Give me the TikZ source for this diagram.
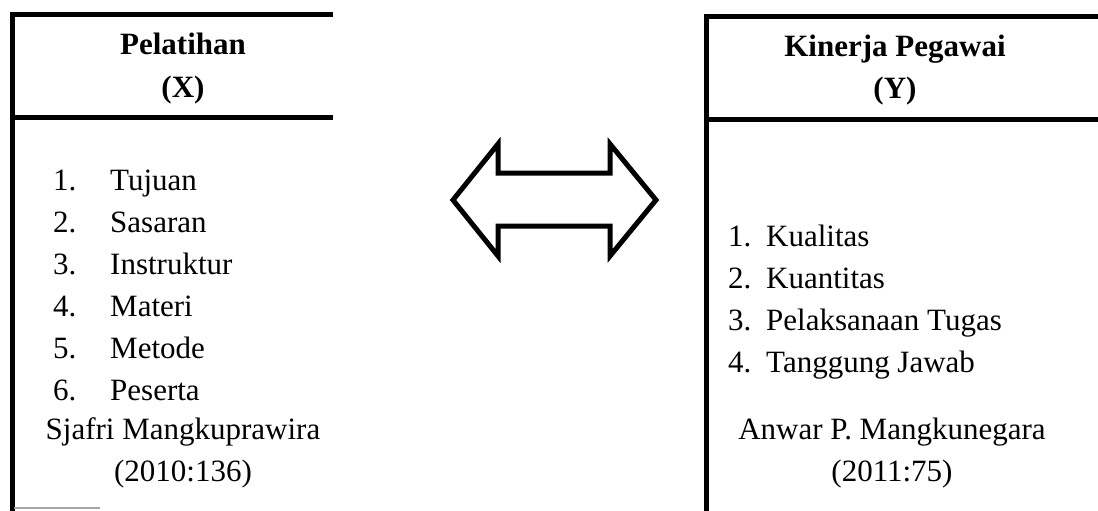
\documentclass[tikz,border=0pt]{standalone}
\usepackage{fontspec}
\setmainfont{Liberation Serif}
\begin{document}
\begin{tikzpicture}[x=1pt,y=-1pt,
  txt/.style={inner sep=0pt, font=\fontsize{31}{37}\selectfont},
  ttl/.style={txt, font=\fontsize{31}{37}\selectfont\bfseries, anchor=base},
  num/.style={txt, anchor=base west},
  item/.style={txt, anchor=base west},
  src/.style={txt, anchor=base},
  frame/.style={line width=5pt, line cap=rect},
  thin/.style={line width=1.5pt, black!35}]
\useasboundingbox (0,0) rectangle (1098,511);
\fill[white] (0,0) rectangle (1098,511);

% left box
\coordinate (LTL) at (12,15);
\coordinate (LTR) at (330,15);
\coordinate (LHL) at (12,117);
\coordinate (LHR) at (330,117);
\coordinate (LBL) at (12,511);
\draw[frame] (LTR) -- (LTL) -- (LBL);
\draw[frame] (LHL) -- (LHR);
\coordinate (LG1) at (14,508);
\coordinate (LG2) at (100,508);
\draw[thin] (LG1) -- (LG2);

\node[ttl] (t1a) at (183,55) {Pelatihan};
\node[ttl] (t1b) at (183,97) {(X)};

\foreach \i/\t in {1/Tujuan,2/Sasaran,3/Instruktur,4/Materi,5/Metode,6/Peserta}{
  \node[num] (ln\i) at (53,{190+42*(\i-1)}) {\i.};
  \node[item] (lt\i) at (110,{190+42*(\i-1)}) {\t};
}
\node[src] (ls1) at (183,439) {Sjafri Mangkuprawira};
\node[src] (ls2) at (183,481) {(2010:136)};

% right box
\coordinate (RTL) at (706,17);
\coordinate (RTR) at (1098,17);
\coordinate (RHL) at (706,119);
\coordinate (RHR) at (1098,119);
\coordinate (RBL) at (706,511);
\draw[frame] (RTR) -- (RTL) -- (RBL);
\draw[frame] (RHL) -- (RHR);

\node[ttl] (t2a) at (895,57) {Kinerja Pegawai};
\node[ttl] (t2b) at (895,99) {(Y)};

\foreach \i/\t in {1/Kualitas,2/Kuantitas,3/Pelaksanaan Tugas,4/Tanggung Jawab}{
  \node[num] (rn\i) at (728,{246+42*(\i-1)}) {\i.};
  \node[item] (rt\i) at (766,{246+42*(\i-1)}) {\t};
}
\node[src] (rs1) at (892,439) {Anwar P. Mangkunegara};
\node[src] (rs2) at (892,481) {(2011:75)};

% double arrow
\draw[line width=5pt, line join=miter]
  (453,200) -- (498,144) -- (498,173) -- (610,173) -- (610,144)
  -- (656,200) -- (610,256) -- (610,226) -- (498,226) -- (498,256) -- cycle;
\end{tikzpicture}
\end{document}
